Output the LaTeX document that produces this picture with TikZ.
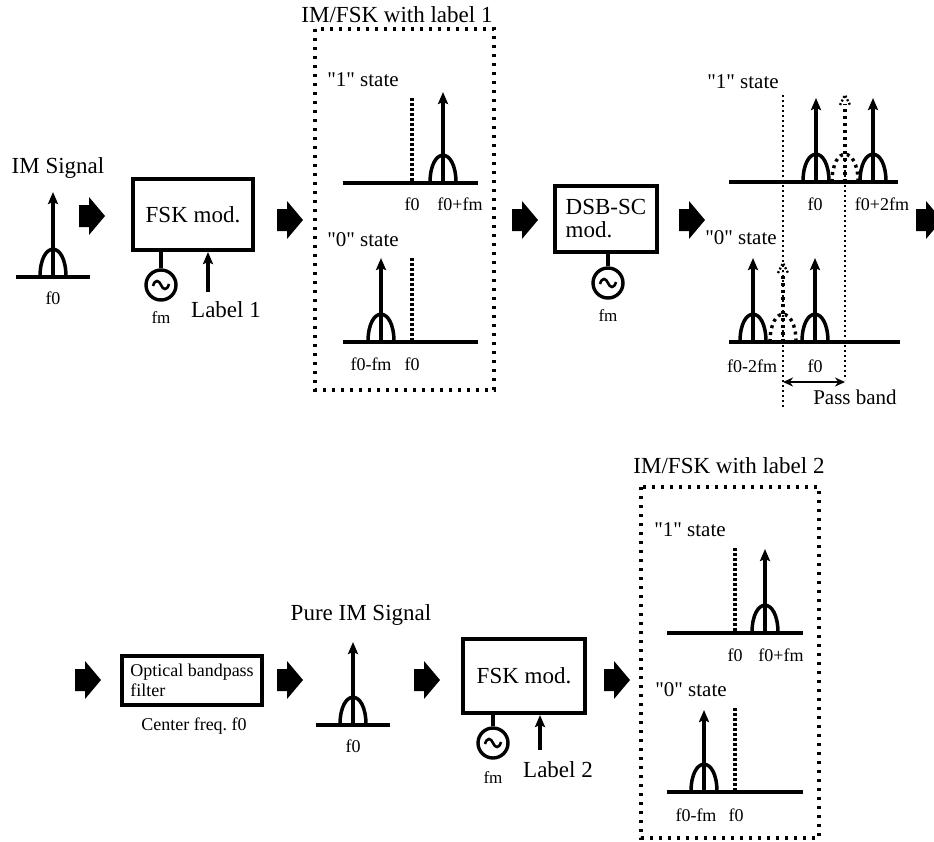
\documentclass[tikz,border=0pt]{standalone}
\usepackage{fontspec}
\setmainfont{Liberation Serif}
\usetikzlibrary{arrows.meta}
\newcommand\bellarrow[3]{%
  \draw[bellline] (#1-13,#2) .. controls (#1-13,#2-37) and (#1+13,#2-37) .. (#1+13,#2);
  \draw[spk] (#1,#2) -- (#1,#3);}
\newcommand\dotbellarrow[3]{%
  \draw[dotbell] (#1-13,#2) .. controls (#1-13,#2-37) and (#1+13,#2-37) .. (#1+13,#2);
  \draw[dotbell] (#1,#2) -- (#1,#3+9);
  \draw[line width=2.4pt, dash pattern=on 2pt off 2pt] (#1-5,#3+10) -- (#1,#3) -- (#1+5,#3+10);}
\newcommand\blkarrow[2]{%
  \fill (#1-13,#2-11) -- (#1-3,#2-11) -- (#1-3,#2-19) -- (#1+13,#2) -- (#1-3,#2+19) -- (#1-3,#2+11) -- (#1-13,#2+11) -- cycle;}
\newcommand\osctilde[2]{%
  \draw[line width=2.6pt] (#1-8,#2+1) .. controls (#1-6,#2-6) and (#1-2,#2-5) .. (#1,#2) .. controls (#1+2,#2+5) and (#1+6,#2+6) .. (#1+8,#2-1);}
\newcommand\qs[1]{\textquotedbl#1\textquotedbl{} state}
\begin{document}
\begin{tikzpicture}[x=1pt,y=-1pt,
  box/.style={draw, line width=4pt, inner sep=0pt, font=\fontsize{23}{23}\selectfont},
  big/.style={font=\fontsize{23}{25}\selectfont, inner sep=0pt},
  st/.style={font=\fontsize{21}{23}\selectfont, inner sep=0pt},
  fl/.style={font=\fontsize{18}{20}\selectfont, inner sep=0pt},
  fms/.style={font=\fontsize{17}{19}\selectfont, inner sep=0pt},
  osc/.style={draw, circle, line width=3.4pt, minimum size=30pt, inner sep=0pt},
  axis/.style={line width=4.5pt},
  spk/.style={line width=3.4pt, -{Stealth[length=12pt,width=10pt,inset=2pt]}},
  bellline/.style={line width=3.5pt},
  fmark/.style={line width=4.5pt, dash pattern=on 3pt off 2pt},
  frame/.style={line width=3.2pt, dash pattern=on 3pt off 6pt},
  pband/.style={line width=2pt, dash pattern=on 2pt off 3pt},
  dotbell/.style={line width=3.4pt, dash pattern=on 3pt off 4pt},
]
\useasboundingbox (0,0) rectangle (934,841);
\clip (0,0) rectangle (934,841);

% ---------- top row ----------
\node[big] (im) at (58,168) {IM Signal};
\draw[axis] (16,277) -- (90,277);
\bellarrow{53}{277}{192}
\node[fl] (f0a) at (53,298) {f0};

\blkarrow{92}{216}

\node[box, minimum width=120pt, minimum height=71pt] (fsk1) at (193,214.5) {FSK mod.};
\node[osc] (osc1) at (161,285) {};
\osctilde{161}{285}
\draw[line width=3.4pt] (osc1.north) -- (osc1.north |- fsk1.south);
\node[fms] (fm1) at (161,318) {fm};
\node[big] (lab1) at (226,310) {Label 1};
\coordinate (l1) at (208,292);
\draw[spk] (l1) -- (l1 |- fsk1.south);

\blkarrow{290}{220}

% IM/FSK with label 1
\node[big] (t1) at (397,15) {IM/FSK with label 1};
\draw[frame] (315,29) rectangle (494,390);
\node[st] (s1a) at (363,80) {\qs{1}};
\draw[fmark] (412,98) -- (412,183);
\draw[axis] (343,183) -- (478,183);
\bellarrow{443}{183}{92}
\node[fl] (la1) at (412,204) {f0};
\node[fl] (la2) at (460,204) {f0+fm};
\node[st] (s0a) at (363,240) {\qs{0}};
\draw[fmark] (412,258) -- (412,342);
\draw[axis] (343,342) -- (478,342);
\bellarrow{381}{342}{258}
\node[fl] (la3) at (371,364) {f0-fm};
\node[fl] (la4) at (412,364) {f0};

\blkarrow{525}{220}

\node[box, minimum width=102pt, minimum height=66pt, align=left] (dsb) at (606,219) {DSB-SC\\mod.};
\node[osc] (osc2) at (608,283) {};
\osctilde{608}{283}
\draw[line width=3.4pt] (osc2.north) -- (osc2.north |- dsb.south);
\node[fms] (fm2) at (608,316) {fm};

\blkarrow{692}{220}

% DSB-SC spectra
\draw[pband] (783,95) -- (783,407);
\draw[pband] (845,160) -- (845,380);
\node[st] (s1b) at (743,82) {\qs{1}};
\draw[axis] (729,182) -- (898,182);
\bellarrow{816}{182}{98}
\bellarrow{873}{182}{98}
\dotbellarrow{845}{182}{95}
\node[fl] (lb1) at (815,204) {f0};
\node[fl] (lb2) at (882,204) {f0+2fm};

\node[st] (s0b) at (741,238) {\qs{0}};
\draw[axis] (729,342) -- (900,342);
\bellarrow{753}{342}{258}
\bellarrow{815}{342}{258}
\dotbellarrow{783}{342}{263}
\node[fl] (lb3) at (752,366) {f0-2fm};
\node[fl] (lb4) at (815,366) {f0};
\coordinate (pbL) at (783,382);
\coordinate (pbR) at (845,382);
\draw[line width=2.2pt, {Stealth[length=10pt,width=9pt]}-{Stealth[length=10pt,width=9pt]}] (pbL) -- (pbR);
\node[st] (pb) at (855,397) {Pass band};

\blkarrow{929}{220}

% ---------- bottom row ----------
\blkarrow{88}{680}
\node[draw, line width=4pt, minimum width=140pt, minimum height=49pt, inner sep=0pt, align=left, font=\fontsize{18}{20}\selectfont] (obf) at (192,680.5) {Optical bandpass\\filter};
\node[font=\fontsize{18}{20}\selectfont, inner sep=0pt] (cf) at (194,726) {Center freq.\ f0};

\blkarrow{290}{680}

\node[big] (pim) at (361,615) {Pure IM Signal};
\draw[axis] (316,725) -- (390,725);
\bellarrow{353}{725}{642}
\node[fl] (f0p) at (353,746) {f0};

\blkarrow{427}{680}

\node[box, minimum width=122pt, minimum height=74pt] (fsk2) at (524,676) {FSK mod.};
\node[osc] (osc3) at (493,743) {};
\osctilde{493}{743}
\draw[line width=3.4pt] (osc3.north) -- (osc3.north |- fsk2.south);
\node[fms] (fm3) at (493,778) {fm};
\node[big] (lab2) at (558,770) {Label 2};
\coordinate (l2) at (540,750);
\draw[spk] (l2) -- (l2 |- fsk2.south);

\blkarrow{617}{680}

% IM/FSK with label 2
\node[big] (t2) at (729,466) {IM/FSK with label 2};
\draw[frame] (641,487) rectangle (819,838);
\node[st] (s1c) at (690,530) {\qs{1}};
\draw[fmark] (735,548) -- (735,633);
\draw[axis] (667,633) -- (803,633);
\bellarrow{765}{633}{549}
\node[fl] (lc1) at (735,655) {f0};
\node[fl] (lc2) at (781,655) {f0+fm};
\node[st] (s0c) at (691,690) {\qs{0}};
\draw[fmark] (735,708) -- (735,792);
\draw[axis] (667,792) -- (803,792);
\bellarrow{704}{792}{710}
\node[fl] (lc3) at (696,815) {f0-fm};
\node[fl] (lc4) at (736,815) {f0};
\end{tikzpicture}
\end{document}
